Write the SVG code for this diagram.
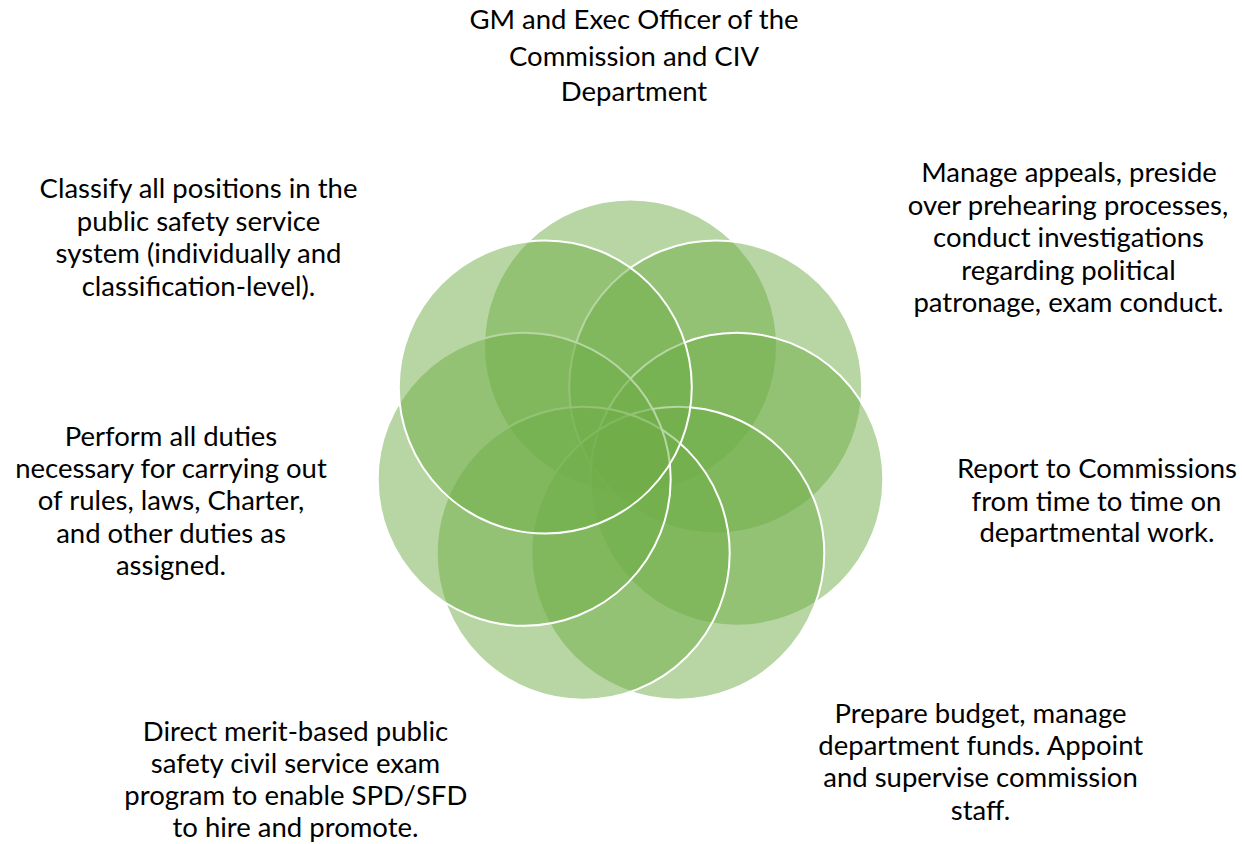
<svg xmlns="http://www.w3.org/2000/svg" width="1242" height="844" viewBox="0 0 1242 844">
<style>
.c{fill:#70AD47;fill-opacity:0.5;stroke:#FFFFFF;stroke-width:2}
.t{font-family:Lato,"Liberation Sans",sans-serif;font-size:27.5px;fill:#000;text-anchor:middle}
</style>
<rect width="1242" height="844" fill="#FFFFFF"/>
<g id="circles">
<circle id="c1" class="c" cx="630.5" cy="346" r="146.5"/>
<circle id="c2" class="c" cx="715.7" cy="387" r="146.5"/>
<circle id="c3" class="c" cx="736.8" cy="479.3" r="146.5"/>
<circle id="c4" class="c" cx="677.8" cy="553.2" r="146.5"/>
<circle id="c5" class="c" cx="583.2" cy="553.2" r="146.5"/>
<circle id="c6" class="c" cx="524.2" cy="479.3" r="146.5"/>
<circle id="c7" class="c" cx="545.3" cy="387" r="146.5"/>
</g>
<g id="connectors"></g>
<g id="node1">
<text class="t" x="634" y="29.3">GM and Exec Officer of the</text>
<text class="t" x="634" y="65.7">Commission and CIV</text>
<text class="t" x="634" y="101">Department</text>
</g>
<g id="node2">
<text class="t" x="1069" y="182.3">Manage appeals, preside</text>
<text class="t" x="1068" y="214.6">over prehearing processes,</text>
<text class="t" x="1068.5" y="247">conduct investigations</text>
<text class="t" x="1068.5" y="279.5">regarding political</text>
<text class="t" x="1068.5" y="312">patronage, exam conduct.</text>
</g>
<g id="node3">
<text class="t" x="1097" y="478.3">Report to Commissions</text>
<text class="t" x="1096.5" y="510.5">from time to time on</text>
<text class="t" x="1097" y="542">departmental work.</text>
</g>
<g id="node4">
<text class="t" x="980.5" y="722.7">Prepare budget, manage</text>
<text class="t" x="980.8" y="755">department funds. Appoint</text>
<text class="t" x="980.5" y="787.2">and supervise commission</text>
<text class="t" x="980.5" y="819.5">staff.</text>
</g>
<g id="node5">
<text class="t" x="295.5" y="740.7">Direct merit-based public</text>
<text class="t" x="295.5" y="772.8">safety civil service exam</text>
<text class="t" x="295.8" y="804.8">program to enable SPD/SFD</text>
<text class="t" x="295.5" y="837">to hire and promote.</text>
</g>
<g id="node6">
<text class="t" x="171" y="445.7">Perform all duties</text>
<text class="t" x="171" y="478">necessary for carrying out</text>
<text class="t" x="171" y="510.3">of rules, laws, Charter,</text>
<text class="t" x="171" y="542.6">and other duties as</text>
<text class="t" x="171" y="575">assigned.</text>
</g>
<g id="node7">
<text class="t" x="198.5" y="198.3">Classify all positions in the</text>
<text class="t" x="198.5" y="230.8">public safety service</text>
<text class="t" x="198.5" y="263.2">system (individually and</text>
<text class="t" x="198.5" y="295.6">classification-level).</text>
</g>
</svg>
